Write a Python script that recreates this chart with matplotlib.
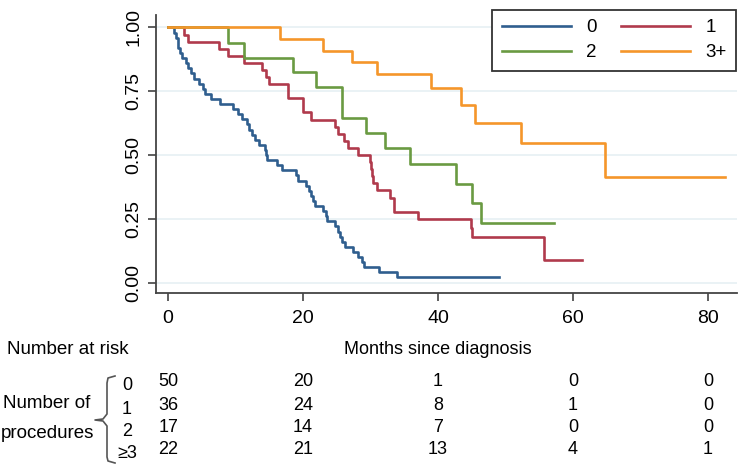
import matplotlib.pyplot as plt
import matplotlib.transforms as mtransforms
from matplotlib.lines import Line2D

plt.rcParams['font.family'] = ['Liberation Sans', 'DejaVu Sans']

# Kaplan-Meier steps (months, survival)
t_0 = [0, 0.8, 1.2, 1.4, 1.5, 1.8, 2.0, 2.6, 3.0, 3.4, 3.8, 4.6, 5.1, 5.5, 6.3, 7.7,
       9.6, 10.4, 11.0, 11.7, 12.0, 12.5, 12.9, 13.4, 14.4, 14.5, 14.6, 16.1, 16.8,
       19.0, 19.2, 20.4, 20.8, 21.1, 21.5, 21.8, 23.0, 23.4, 23.6, 24.7, 25.1, 25.4,
       25.8, 26.2, 27.4, 28.1, 28.8, 29.0, 31.2, 33.9, 49.1]
s_0 = [1.00, 0.98, 0.96, 0.94, 0.92, 0.90, 0.88, 0.86, 0.84, 0.82, 0.80, 0.78, 0.76,
       0.74, 0.72, 0.70, 0.68, 0.66, 0.64, 0.62, 0.60, 0.58, 0.56, 0.54, 0.52, 0.50,
       0.48, 0.46, 0.44, 0.42, 0.40, 0.38, 0.36, 0.34, 0.32, 0.30, 0.28, 0.26, 0.24,
       0.22, 0.20, 0.18, 0.16, 0.14, 0.12, 0.10, 0.08, 0.06, 0.04, 0.02, 0.02]

t_1 = [0, 2.3, 3.0, 7.6, 8.8, 11.3, 13.9, 14.5, 15.0, 17.7, 20.0, 21.2, 24.7, 25.2,
       26.0, 26.7, 28.2, 29.9, 30.0, 30.2, 30.4, 30.9, 32.9, 33.4, 33.5, 37.1, 44.9,
       45.1, 55.7, 61.4]
s_1 = [1.0, 0.972, 0.944, 0.917, 0.889, 0.861, 0.833, 0.806, 0.778, 0.722, 0.667,
       0.639, 0.611, 0.583, 0.556, 0.528, 0.50, 0.472, 0.444, 0.417, 0.389, 0.361,
       0.333, 0.306, 0.278, 0.25, 0.214, 0.179, 0.09, 0.09]

t_2 = [0, 8.8, 11.3, 18.5, 21.9, 25.7, 29.3, 32.1, 35.8, 42.6, 45.1, 46.4, 57.2]
s_2 = [1.0, 0.941, 0.882, 0.824, 0.765, 0.647, 0.588, 0.529, 0.465, 0.387, 0.31,
       0.233, 0.233]

t_3 = [0, 16.6, 23.0, 27.2, 31.0, 39.0, 43.4, 45.4, 52.3, 64.8, 82.5]
s_3 = [1.0, 0.955, 0.909, 0.864, 0.818, 0.764, 0.695, 0.627, 0.548, 0.412, 0.412]

group_labels = ['0', '1', '2', '3+']
colors = ['#2f5e8e', '#b03a4c', '#6a9a42', '#f5962a']

# number at risk table
risk_times = [0, 20, 40, 60, 80]
risk_rows = ['0', '1', '2', '≥3']
risk_0 = [50, 20, 1, 0, 0]
risk_1 = [36, 24, 8, 1, 0]
risk_2 = [17, 14, 7, 0, 0]
risk_3 = [22, 21, 13, 4, 1]

W, H = 741, 471


def fy(py):
    return 1 - py / H


def plot_curves(ax):
    lines = []
    for t, s, c, lab in zip([t_0, t_1, t_2, t_3], [s_0, s_1, s_2, s_3], colors, group_labels):
        ln, = ax.step(t, s, where='post', color=c, lw=1.9, label=lab)
        lines.append(ln)

    ax.set_xlim(-1.8, 84.3)
    ax.set_ylim(-0.041, 1.049)
    ax.set_xticks([0, 20, 40, 60, 80])
    ax.set_yticks([0, 0.25, 0.5, 0.75, 1.0])
    ax.set_yticklabels(['0.00', '0.25', '0.50', '0.75', '1.00'], rotation=90, va='center')
    ax.tick_params(axis='both', labelsize=14, colors='#333333', labelcolor='black',
                   length=6, width=1.1)
    ax.tick_params(axis='x', pad=6)
    ax.tick_params(axis='y', pad=4)
    for side in ['top', 'right']:
        ax.spines[side].set_visible(False)
    for side in ['left', 'bottom']:
        ax.spines[side].set_color('#444444')
        ax.spines[side].set_linewidth(1.3)
    ax.yaxis.grid(True, color='#e6f0f4', lw=1.2)
    ax.set_axisbelow(True)
    return lines


def plot_risk_table(fig, ax):
    trans = mtransforms.blended_transform_factory(ax.transData, fig.transFigure)
    row_y = [382, 405, 427, 449]
    for row, vals, py in zip(risk_rows, [risk_0, risk_1, risk_2, risk_3], row_y):
        fig.text(127 / W, fy(py + 4), row, ha='center', va='center', fontsize=13)
        for t, v in zip(risk_times, vals):
            ax.text(t, fy(py), str(v), transform=trans, ha='center', va='center',
                    fontsize=13)

    fig.text(7 / W, fy(350), 'Number at risk', ha='left', va='center', fontsize=13.5)
    fig.text(438 / W, fy(350), 'Months since diagnosis', ha='center', va='center', fontsize=13)
    fig.text(47 / W, fy(404), 'Number of', ha='center', va='center', fontsize=13.5)
    fig.text(47 / W, fy(433), 'procedures', ha='center', va='center', fontsize=13.5)

    # curly bracket
    bx = [115, 108, 107, 107, 103, 95, 103, 107, 107, 108, 115]
    by = [376, 378, 383, 414, 419, 420, 421, 426, 457, 461, 463]
    fig.add_artist(Line2D([x / W for x in bx], [fy(y) for y in by],
                          color='#555555', lw=1.2))


def main():
    fig = plt.figure(figsize=(W / 100, H / 100), dpi=100)
    ax = fig.add_axes([156 / W, fy(293), (737 - 156) / W, (293 - 15) / H])
    lines = plot_curves(ax)

    order = [0, 2, 1, 3]
    leg = fig.legend([lines[i] for i in order], [group_labels[i] for i in order],
                     ncol=2, loc='upper right', bbox_to_anchor=(736 / W, fy(10)),
                     borderaxespad=0, fontsize=13.5, handlelength=3.7,
                     columnspacing=1.3, labelspacing=0.4, handletextpad=0.8,
                     borderpad=0.5, fancybox=False, framealpha=1)
    leg.get_frame().set_edgecolor('#333333')
    leg.get_frame().set_linewidth(1.3)

    plot_risk_table(fig, ax)
    fig.savefig('out.png', dpi=100)


if __name__ == "__main__":
    main()
